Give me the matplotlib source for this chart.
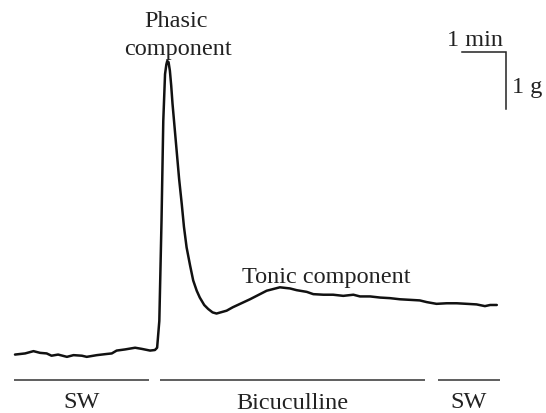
import matplotlib
matplotlib.use("Agg")
import matplotlib.pyplot as plt

# Trace: time (min) and tension (g)
time_min = [0.00, 0.23, 0.42, 0.57, 0.72, 0.83, 0.98, 1.18, 1.33, 1.52, 1.63, 1.86,
            2.08, 2.20, 2.31, 2.50, 2.73, 2.88, 3.07, 3.18, 3.23, 3.28, 3.33, 3.37,
            3.41, 3.44, 3.46, 3.49, 3.52, 3.55, 3.58, 3.63, 3.68, 3.73, 3.79, 3.84,
            3.90, 3.98, 4.05, 4.13, 4.20, 4.30, 4.39, 4.49, 4.58, 4.81,
            4.95, 5.34, 5.72, 6.02, 6.25, 6.40, 6.63, 6.78, 7.01, 7.23, 7.46, 7.69,
            7.84, 8.07, 8.30, 8.52, 8.75, 8.98, 9.20, 9.36, 9.58, 9.81, 10.04, 10.27,
            10.49, 10.68, 10.80, 10.95]
tension_g = [-0.01, 0.01, 0.05, 0.02, 0.01, -0.03, -0.01, -0.05, -0.02, -0.03, -0.05, -0.02,
             0.00, 0.01, 0.06, 0.08, 0.11, 0.09, 0.06, 0.07, 0.11, 0.58, 2.34, 4.09,
             4.91, 5.08, 5.14, 5.12, 4.97, 4.71, 4.39, 3.95, 3.51, 3.07, 2.63, 2.23,
             1.87, 1.55, 1.29, 1.11, 0.99, 0.86, 0.79, 0.73, 0.71, 0.76,
             0.82, 0.96, 1.11, 1.17, 1.15, 1.12, 1.09, 1.05, 1.04, 1.04, 1.02, 1.04,
             1.01, 1.01, 0.99, 0.98, 0.96, 0.95, 0.94, 0.91, 0.88, 0.89, 0.89, 0.88,
             0.87, 0.84, 0.86, 0.86]

# Application periods (min)
period_labels = ["SW", "Bicuculline", "SW"]
period_start = [-0.02, 3.30, 9.61]
period_end = [3.05, 9.32, 11.02]

# Scale bars
scale_time_min = 1.0
scale_tension_g = 1.0

FONT = "Liberation Serif"
FS = 17.5

fig = plt.figure(figsize=(5.46, 4.14), dpi=100)
ax = fig.add_axes([0, 0, 1, 1])
ax.set_xlim(-15 / 44, (546 - 15) / 44)
ax.set_ylim((355 - 414) / 57, 355 / 57)
ax.axis("off")

ax.plot(time_min, tension_g, color="#111111", lw=1.8, solid_joinstyle="round",
        solid_capstyle="round")

bar_y = -0.46
label_y = [-0.93, -0.945, -0.93]
for lab, s, e, ly in zip(period_labels, period_start, period_end, label_y):
    ax.plot([s, e], [bar_y, bar_y], color="#333333", lw=1.1, solid_capstyle="butt")
    ax.text((s + e) / 2, ly, lab, ha="center", va="baseline", family=FONT,
            fontsize=FS, color="#222222")

# scale bar
sx1 = 11.16
sy = 5.30
ax.plot([sx1 - scale_time_min, sx1, sx1], [sy, sy, sy - scale_tension_g],
        color="#222222", lw=1.1, solid_joinstyle="miter")
ax.text(sx1 - 0.7, 5.42, "1 min", ha="center", va="baseline", family=FONT,
        fontsize=FS, color="#222222")
ax.text(11.30, 4.59, "1 g", ha="left", va="baseline", family=FONT,
        fontsize=FS, color="#222222")

ax.text(3.66, 5.76, "Phasic", ha="center", va="baseline", family=FONT,
        fontsize=FS, color="#222222")
ax.text(3.70, 5.26, "component", ha="center", va="baseline", family=FONT,
        fontsize=FS, color="#222222")
ax.text(7.07, 1.27, "Tonic component", ha="center", va="baseline", family=FONT,
        fontsize=FS, color="#222222")

fig.savefig("out.png", dpi=100)
